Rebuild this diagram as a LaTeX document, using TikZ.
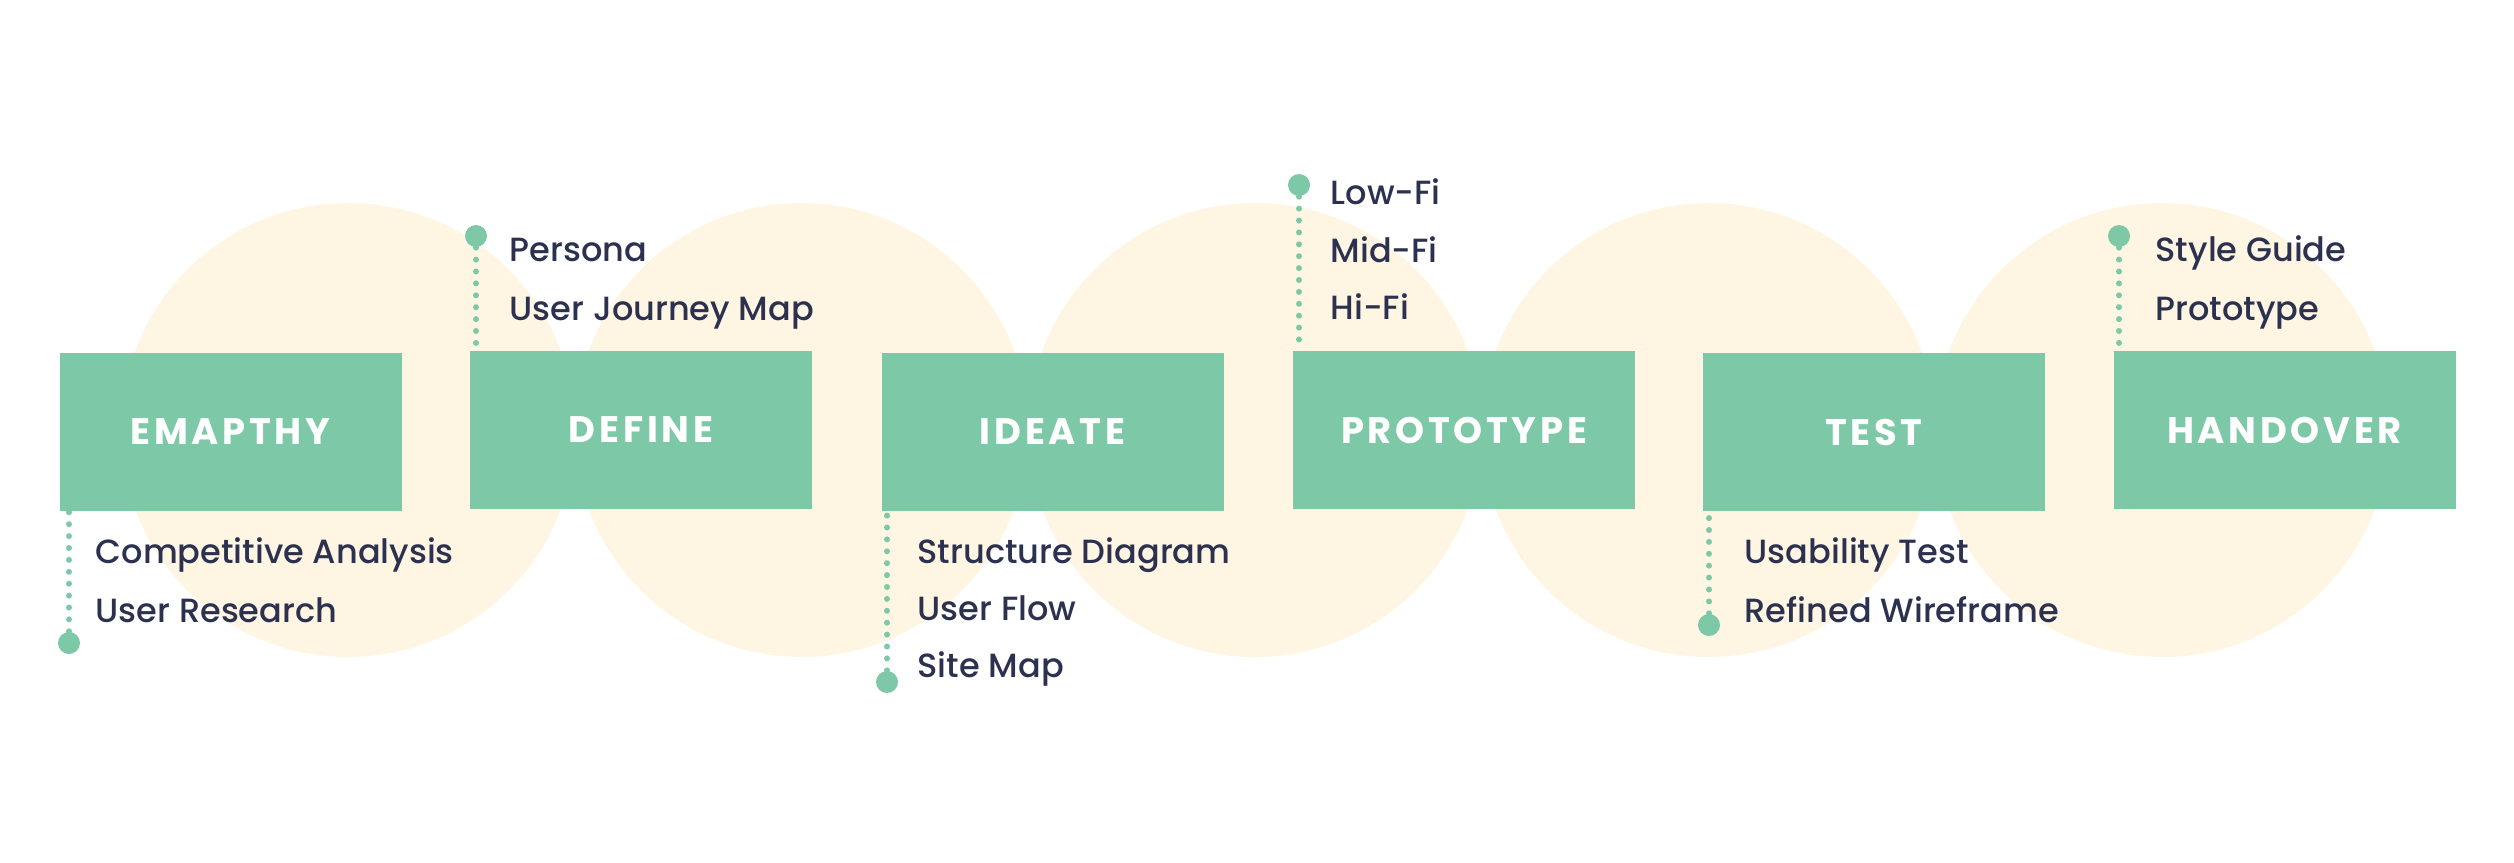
\documentclass[tikz,border=0pt]{standalone}
\usepackage{fontspec}
\setmainfont{Poppins Medium}
\newfontfamily\stagefont[LetterSpace=10]{Poppins}
\definecolor{StageClr}{HTML}{7DC9A7}
\definecolor{RingClr}{HTML}{FEF6E2}
\definecolor{TextClr}{HTML}{2D3150}
\tikzset{
  stage/.style={fill=StageClr,text=white,inner sep=0,minimum width=34.2mm,minimum height=15.8mm,
    font=\stagefont\bfseries\fontsize{10.5pt}{12pt}\selectfont},
  item/.style={anchor=base west,inner sep=0,text=TextClr,font=\fontsize{9.55pt}{11pt}\selectfont},
  knob/.style={circle,fill=StageClr,inner sep=0,minimum size=2.2mm},
  dotline/.style={StageClr,line width=0.6mm,line cap=round,dash pattern=on 0pt off 1.19mm}
}
\begin{document}
\begin{tikzpicture}[x=0.1mm,y=-0.1mm]
\useasboundingbox (0,0) rectangle (2514,862);

\foreach \cx in {348,801.5,1255,1708.5,2162}
  \fill[RingClr] (\cx,430) circle[radius=22.7mm];

\node[knob] (empK) at (69,643) {};
\node[knob] (defK) at (476,236) {};
\node[knob] (ideK) at (887,682) {};
\node[knob] (proK) at (1299,185) {};
\node[knob] (tesK) at (1709,625) {};
\node[knob] (hanK) at (2119,236) {};

\coordinate (empT) at (69,511);
\coordinate (defT) at (476,351);
\coordinate (ideT) at (887,511);
\coordinate (proT) at (1299,351);
\coordinate (tesT) at (1709,511);
\coordinate (hanT) at (2119,351);

\draw[dotline] (empK) -- (empT);
\draw[dotline] (defK) -- (defT);
\draw[dotline] (ideK) -- (ideT);
\draw[dotline] (proK) -- (proT);
\draw[dotline] (tesK) -- (tesT);
\draw[dotline] (hanK) -- (hanT);

\node[stage] (emp) at (230.5,432) {EMAPTHY};
\node[stage] (def) at (641,430) {DEFINE};
\node[stage] (ide) at (1052.5,432) {IDEATE};
\node[stage] (pro) at (1464,430) {PROTOTYPE};
\node[stage] (tes) at (1874,432) {TEST};
\node[stage] (han) at (2284.5,430) {HANDOVER};

\node[item] (empA) at (95,563) {Competitive Analysis};
\node[item] (empB) at (95,622) {User Research};

\node[item] (defA) at (509,261) {Persona};
\node[item] (defB) at (509,320) {User Journey Map};

\node[item] (ideA) at (917,563) {Structure Diagram};
\node[item] (ideB) at (917,620) {User Flow};
\node[item] (ideC) at (917,677) {Site Map};

\node[item] (proA) at (1330,204) {Low-Fi};
\node[item] (proB) at (1330,262) {Mid-Fi};
\node[item] (proC) at (1330,319) {Hi-Fi};

\node[item] (tesA) at (1744,563) {Usability Test};
\node[item] (tesB) at (1744,622) {Refined Wireframe};

\node[item] (hanA) at (2155,261) {Style Guide};
\node[item] (hanB) at (2155,320) {Prototype};

\end{tikzpicture}
\end{document}
